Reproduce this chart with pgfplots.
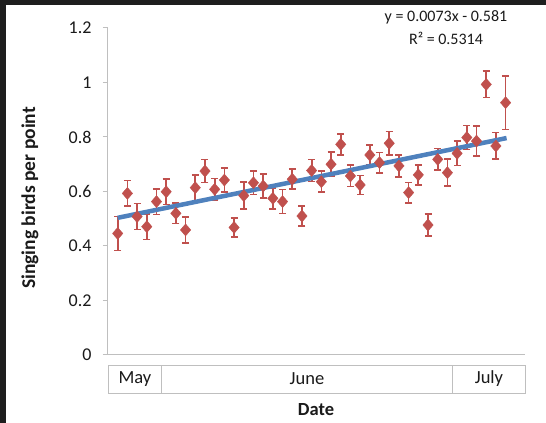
\documentclass[border=0pt]{standalone}
\usepackage{pgfplots}
\pgfplotsset{compat=1.18}
\usepackage{fontspec}
\setmainfont{Carlito}
\definecolor{markred}{HTML}{C0504D}
\definecolor{trendblue}{HTML}{4F81BD}
\definecolor{axgray}{HTML}{BFBFBF}
\definecolor{shotframe}{HTML}{1E1E1E}
\definecolor{txt}{HTML}{1A1A1A}

\begin{document}
\begin{tikzpicture}
% screenshot background with dark strip top and left
\fill[shotframe] (-108bp,-68bp) rectangle (438bp,355bp);
\fill[white] (-102bp,-68bp) rectangle (438bp,350bp);
\begin{axis}[
  at={(0,0)}, anchor=south west,
  scale only axis, width=417bp, height=327bp,
  xmin=147, xmax=190, ymin=0, ymax=1.2,
  axis x line*=bottom, axis y line*=left,
  axis line style={axgray, line width=1bp},
  xtick=\empty,
  ytick={0,0.2,0.4,0.6,0.8,1,1.2},
  tick align=outside, major tick length=5bp,
  ytick style={axgray, line width=1bp},
  /pgf/number format/assume math mode=true,
  yticklabel style={font=\fontsize{18bp}{21bp}\selectfont, text=txt, xshift=-8bp},
  clip=false,
]
\addplot[markred, only marks, mark=diamond*, mark size=6bp, mark options={xscale=1.15},
  error bars/.cd, y dir=both, y explicit,
  error bar style={markred, line width=1.7bp},
  error mark options={markred, line width=1.7bp, rotate=90, mark size=3.5bp}]
  table[x=d, y=v, y error=e] {
d   v     e
148 0.446 0.062
149 0.593 0.047
150 0.508 0.048
151 0.471 0.047
152 0.563 0.047
153 0.599 0.047
154 0.520 0.037
155 0.459 0.048
156 0.614 0.047
157 0.675 0.042
158 0.608 0.040
159 0.642 0.043
160 0.468 0.036
161 0.585 0.050
162 0.632 0.043
163 0.620 0.044
164 0.575 0.039
165 0.563 0.044
166 0.645 0.037
167 0.510 0.037
168 0.677 0.040
169 0.636 0.039
170 0.700 0.044
171 0.773 0.039
172 0.657 0.039
173 0.624 0.035
174 0.734 0.037
175 0.706 0.037
176 0.777 0.043
177 0.694 0.040
178 0.596 0.037
179 0.661 0.037
180 0.477 0.041
181 0.718 0.040
182 0.669 0.049
183 0.740 0.045
184 0.798 0.044
185 0.785 0.055
186 0.993 0.048
187 0.767 0.049
188 0.926 0.098
};
% linear trendline y = 0.0073x - 0.581
\addplot[trendblue, line width=4.5bp, no marks] coordinates {(148,0.5034) (188.1,0.7961)};
\end{axis}
% category boxes below the axis
\draw[axgray, line width=1bp] (0,-10bp) rectangle (417bp,-38bp);
\draw[axgray, line width=1bp] (53.7bp,-10bp) -- (53.7bp,-38bp);
\draw[axgray, line width=1bp] (344.7bp,-10bp) -- (344.7bp,-38bp);
\begin{scope}[every node/.style={font=\fontsize{18.5bp}{21bp}\selectfont, text=txt}]
\node at (27bp,-24bp) {May};
\node at (199bp,-24bp) {June};
\node at (381bp,-24bp) {July};
\node[font=\fontsize{18.5bp}{21bp}\selectfont\bfseries] at (208bp,-55bp) {Date};
\node[font=\fontsize{19.5bp}{22bp}\selectfont\bfseries, rotate=90] at (-78bp,157bp) {Singing birds per point};
\node[font=\fontsize{16bp}{19bp}\selectfont] at (338bp,338bp) {y = 0.0073x - 0.581};
\node[font=\fontsize{16bp}{19bp}\selectfont] at (338bp,317bp) {R² = 0.5314};
\end{scope}
\pgfresetboundingbox
\path (-108bp,-68bp) rectangle (438bp,355bp);
\end{tikzpicture}
\end{document}
